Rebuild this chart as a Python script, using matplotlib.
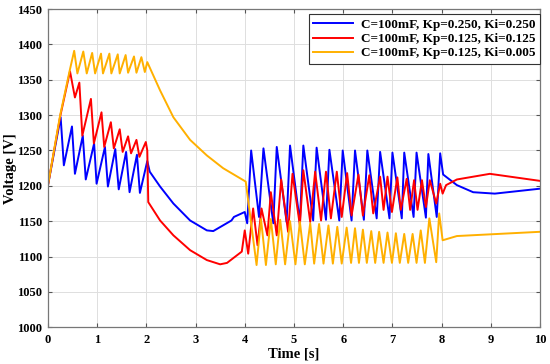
import matplotlib

matplotlib.use("Agg")
import matplotlib.pyplot as plt

# values (time in s, voltage in V)
blue_t = [0, 0.26, 0.325, 0.49, 0.55, 0.71, 0.77, 0.94, 0.99, 1.16,
          1.22, 1.37, 1.44, 1.59, 1.66, 1.81, 1.87, 2.02, 2.07, 2.28,
          2.55, 2.89, 3.23, 3.36, 3.73, 3.78, 4.0, 4.05, 4.13, 4.29,
          4.38, 4.58, 4.65, 4.85, 4.92, 5.12, 5.19, 5.39, 5.46, 5.65,
          5.72, 5.92, 5.99, 6.17, 6.24, 6.42, 6.49, 6.68, 6.75, 6.94,
          7.0, 7.19, 7.24, 7.43, 7.49, 7.68, 7.73, 7.90, 7.97, 8.03,
          8.31, 8.64, 9.08, 10.0]
blue_v = [1200, 1297, 1229, 1284, 1217, 1271, 1209, 1260, 1203, 1255,
          1199, 1252, 1195, 1248, 1191, 1244, 1190, 1235, 1220, 1199,
          1175, 1151, 1137, 1136, 1151, 1156, 1163, 1147, 1250, 1156,
          1253, 1147, 1255, 1149, 1257, 1149, 1257, 1151, 1254, 1152,
          1251, 1151, 1250, 1151, 1250, 1152, 1250, 1154, 1248, 1154,
          1247, 1154, 1247, 1156, 1247, 1155, 1245, 1156, 1246, 1216,
          1201, 1191, 1189, 1196]

red_t = [0, 0.25, 0.45, 0.55, 0.64, 0.70, 0.875, 0.935, 1.09, 1.145,
         1.28, 1.34, 1.46, 1.52, 1.63, 1.69, 1.80, 1.86, 1.99, 2.02,
         2.04, 2.28, 2.55, 2.89, 3.23, 3.50, 3.64, 3.94, 4.0, 4.07,
         4.17, 4.26, 4.34, 4.46, 4.53, 4.65, 4.74, 4.88, 4.97, 5.12,
         5.19, 5.33, 5.43, 5.55, 5.65, 5.75, 5.87, 5.97, 6.08, 6.17,
         6.31, 6.40, 6.53, 6.61, 6.75, 6.82, 6.90, 6.99, 7.10, 7.17,
         7.29, 7.36, 7.44, 7.51, 7.60, 7.68, 7.76, 7.89, 7.97, 8.02,
         8.09, 8.31, 8.98, 10.0]
red_v = [1200, 1298, 1362, 1325, 1346, 1271, 1323, 1260, 1304, 1255,
         1290, 1253, 1280, 1248, 1270, 1246, 1265, 1241, 1262, 1250,
         1177, 1151, 1130, 1109, 1095, 1089, 1091, 1107, 1137, 1104,
         1168, 1116, 1168, 1130, 1191, 1130, 1209, 1135, 1217, 1144,
         1222, 1149, 1220, 1151, 1220, 1154, 1220, 1156, 1218, 1158,
         1216, 1158, 1215, 1161, 1213, 1166, 1213, 1163, 1212, 1166,
         1210, 1166, 1208, 1166, 1208, 1170, 1208, 1175, 1203, 1189,
         1201, 1209, 1217, 1207]

orange_t = [0, 0.25, 0.45, 0.535, 0.60, 0.72, 0.79, 0.90, 0.96, 1.08,
            1.12, 1.25, 1.29, 1.42, 1.46, 1.58, 1.63, 1.75, 1.80, 1.90,
            1.97, 2.02, 2.28, 2.55, 2.89, 3.23, 3.56, 4.02,
            4.24, 4.33, 4.43, 4.53, 4.63, 4.72, 4.82, 4.92, 5.03, 5.12,
            5.22, 5.33, 5.41, 5.51, 5.60, 5.70, 5.79, 5.88, 5.97, 6.07,
            6.16, 6.24, 6.32, 6.40, 6.48, 6.57, 6.65, 6.73, 6.82, 6.90,
            6.99, 7.07, 7.15, 7.24, 7.32, 7.41, 7.49, 7.575, 7.66, 7.75,
            7.89, 7.95, 8.02, 8.31, 10.0]
orange_v = [1200, 1300, 1365, 1391, 1359, 1390, 1359, 1388, 1359, 1387,
            1359, 1387, 1359, 1386, 1359, 1385, 1360, 1383, 1360, 1382,
            1361, 1375, 1335, 1297, 1265, 1243, 1225, 1206,
            1088, 1153, 1088, 1153, 1089, 1152, 1089, 1150, 1089, 1149,
            1089, 1147, 1090, 1146, 1090, 1144, 1090, 1142, 1090, 1141,
            1091, 1140, 1091, 1138, 1091, 1136, 1091, 1135, 1091, 1134,
            1091, 1133, 1091, 1132, 1091, 1132, 1091, 1137, 1091, 1154,
            1092, 1161, 1123, 1129, 1135]

labels = [
    "C=100mF, Kp=0.250, Ki=0.250",
    "C=100mF, Kp=0.125, Ki=0.125",
    "C=100mF, Kp=0.125, Ki=0.005",
]

plt.rcParams["font.family"] = ["Liberation Serif", "DejaVu Serif"]
plt.rcParams["font.weight"] = "bold"

fig = plt.figure(figsize=(5.5, 3.64), dpi=100)
ax = fig.add_axes([0.087, 0.101, 0.895, 0.874])

ax.plot(blue_t, blue_v, color="#0000FF", lw=1.4, label=labels[0])
ax.plot(red_t, red_v, color="#FF0000", lw=1.4, label=labels[1])
ax.plot(orange_t, orange_v, color="#FFB000", lw=1.4, label=labels[2])

ax.set_xlim(0, 10)
ax.set_ylim(1000, 1450)
ax.set_xticks(range(0, 11))
ax.set_yticks(range(1000, 1451, 50))
ax.grid(True, color="#DEDEDE", lw=0.7)
ax.set_axisbelow(True)
ax.tick_params(direction="in", top=True, right=True, labelsize=9,
               length=3, color="#555555", pad=5)
ax.tick_params(axis="y", pad=4)
for s in ax.spines.values():
    s.set_color("#777777")
    s.set_linewidth(0.9)

ax.set_xlabel("Time [s]", fontsize=10.5, fontweight="bold", labelpad=1)
ax.set_ylabel("Voltage [V]", fontsize=10.5, fontweight="bold", labelpad=0)

leg = ax.legend(loc="upper right", bbox_to_anchor=(1.0, 0.984), fontsize=9.5,
                fancybox=False, framealpha=1, edgecolor="#333333",
                handlelength=3.0, borderpad=0.35, labelspacing=0.15,
                handletextpad=0.6, borderaxespad=0)
leg.get_frame().set_linewidth(0.8)

plt.savefig("out.png", dpi=100)
